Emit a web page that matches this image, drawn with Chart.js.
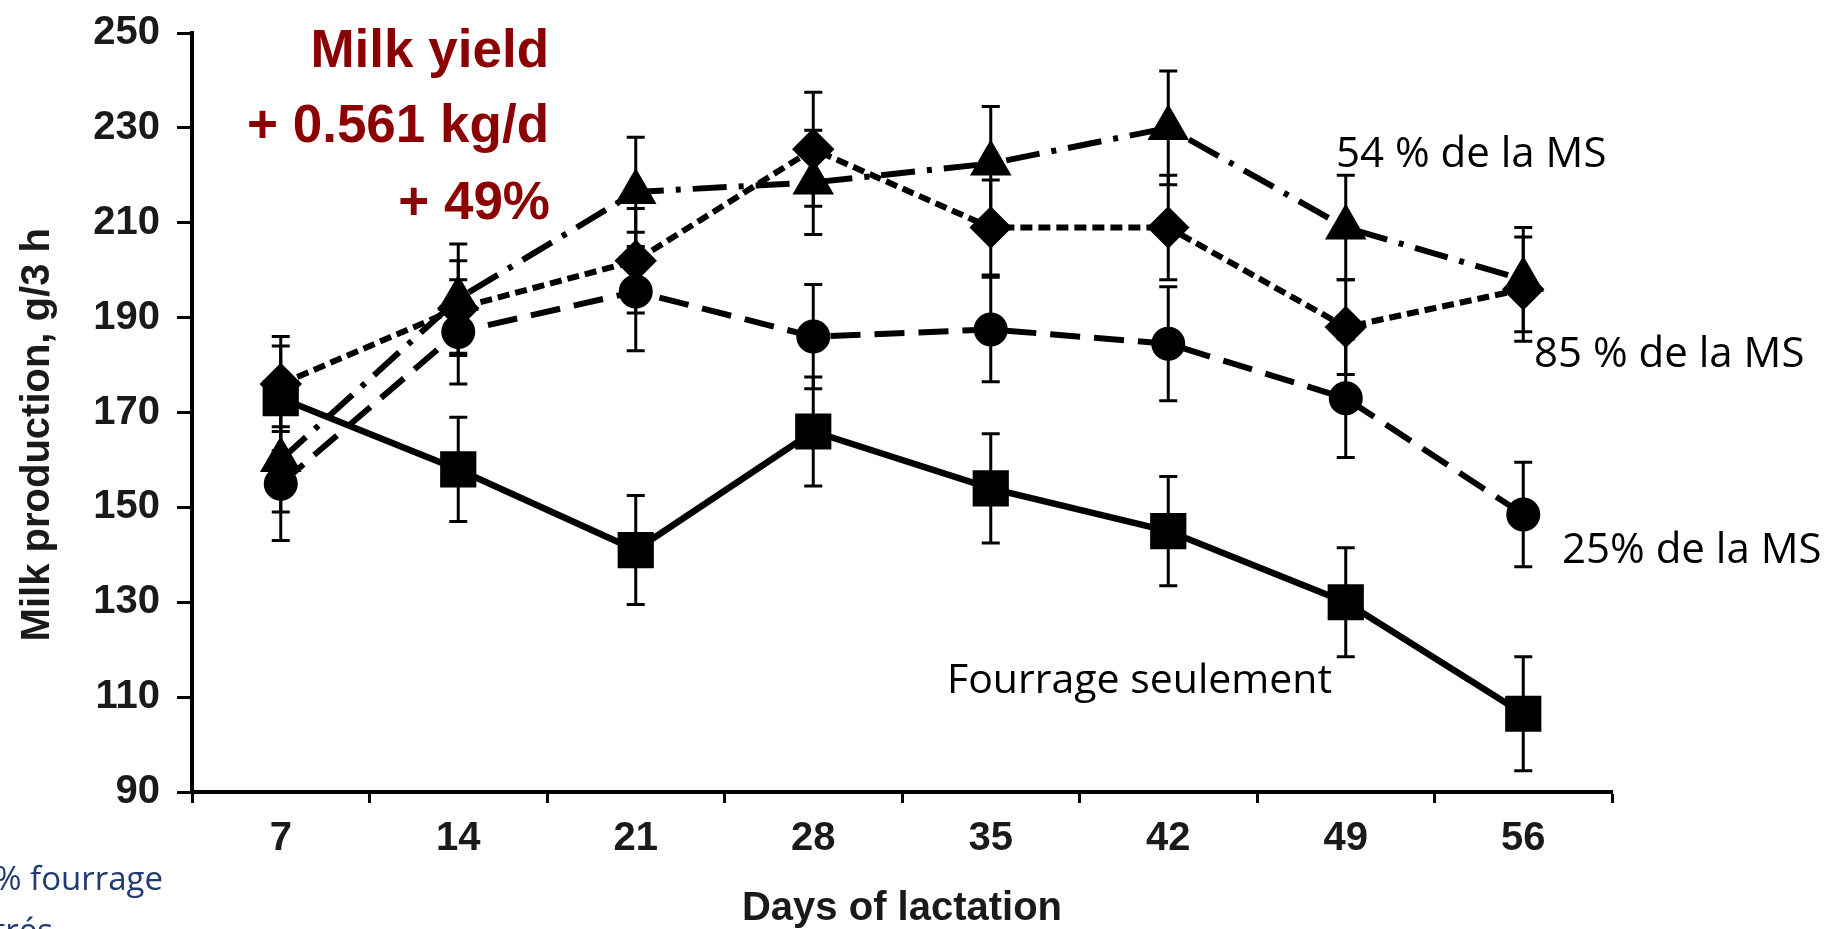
<!DOCTYPE html>
<html>
<head>
<meta charset="utf-8">
<title>Milk production</title>
<script src="https://cdn.jsdelivr.net/npm/chart.js@4.4.1/dist/chart.umd.min.js"></script>
<style>
  html, body { margin: 0; padding: 0; background: #fff; overflow: hidden; }
  canvas { display: block; }
</style>
</head>
<body>
<canvas id="milkChart" width="1828" height="929"></canvas>
<script>
// Days of lactation (categories)
const days = ["7", "14", "21", "28", "35", "42", "49", "56"];

// Milk production, g/3 h - means
const fourrage = [173, 158, 141, 166, 154, 145, 130, 106.5];
const ms25 = [155, 187, 195.5, 186, 187.5, 184.5, 173, 148.5];
const ms85 = [176, 192, 202, 225.5, 209, 209, 188, 196];
const ms54 = [160, 194, 216.5, 218.5, 222.5, 230, 209, 198];

// error bars (+/-)
const fourrageErr = [11, 11, 11.5, 11.5, 11.5, 11.5, 11.5, 12];
const ms25Err = [12, 11, 12.5, 11, 11, 12, 12.5, 11];
const ms85Err = [10, 10, 11, 12, 10, 11, 10, 11];
const ms54Err = [11, 11.5, 11.5, 11, 12, 12, 11, 11];

// y axis range
const yMin = 90;
const yMax = 250;
const yStep = 20;

const axisFont = "'Liberation Sans', Arial, sans-serif";
const noteFont = "'Open Sans', sans-serif";

// Error bars drawn from the y scale
const errorBars = {
  id: "errorBars",
  beforeDatasetsDraw(chart) {
    const ctx = chart.ctx;
    const yScale = chart.scales.y;
    chart.data.datasets.forEach((ds, i) => {
      const meta = chart.getDatasetMeta(i);
      ctx.save();
      ctx.strokeStyle = "#000";
      ctx.lineWidth = 3;
      meta.data.forEach((pt, j) => {
        const v = ds.data[j];
        const e = ds.errors[j];
        const top = yScale.getPixelForValue(v + e);
        const bot = yScale.getPixelForValue(v - e);
        ctx.beginPath();
        ctx.moveTo(pt.x, top);
        ctx.lineTo(pt.x, bot);
        ctx.moveTo(pt.x - 9, top);
        ctx.lineTo(pt.x + 9, top);
        ctx.moveTo(pt.x - 9, bot);
        ctx.lineTo(pt.x + 9, bot);
        ctx.stroke();
      });
      ctx.restore();
    });
  },
};

// Text notes on the slide
const notes = {
  id: "notes",
  afterDraw(chart) {
    const ctx = chart.ctx;
    ctx.save();
    ctx.textBaseline = "alphabetic";

    // red summary
    ctx.fillStyle = "#8b0000";
    ctx.font = "bold 53px " + axisFont;
    ctx.textAlign = "right";
    ctx.fillText("Milk yield", 549, 67);
    ctx.fillText("+ 0.561 kg/d", 549, 142);
    ctx.fillText("+ 49%", 550, 219);

    // series labels
    ctx.fillStyle = "#000";
    ctx.font = "42px " + noteFont;
    ctx.textAlign = "left";
    ctx.fillText("54 % de la MS", 1336, 167);
    ctx.fillText("85 % de la MS", 1534, 367);
    ctx.fillText("25% de la MS", 1562, 563);
    ctx.font = "41px " + noteFont;
    ctx.fillText("Fourrage seulement", 947, 693);

    // cut-off slide text, bottom left
    ctx.fillStyle = "#203a72";
    ctx.font = "33px " + noteFont;
    ctx.textAlign = "right";
    ctx.fillText("100% fourrage", 163, 890);
    ctx.fillText("concentrés", 53, 942);
    ctx.restore();
  },
};

const ctx = document.getElementById("milkChart").getContext("2d");

new Chart(ctx, {
  type: "line",
  data: {
    labels: days,
    datasets: [
      {
        label: "Fourrage seulement",
        data: fourrage,
        errors: fourrageErr,
        borderColor: "#000",
        backgroundColor: "#000",
        borderWidth: 6.5,
        pointStyle: "rect",
        pointRadius: 21,
      },
      {
        label: "25% de la MS",
        data: ms25,
        errors: ms25Err,
        borderColor: "#000",
        backgroundColor: "#000",
        borderWidth: 6,
        borderDash: [30, 14],
        pointStyle: "circle",
        pointRadius: 14,
      },
      {
        label: "85 % de la MS",
        data: ms85,
        errors: ms85Err,
        borderColor: "#000",
        backgroundColor: "#000",
        borderWidth: 6,
        borderDash: [12, 6],
        pointStyle: "rectRot",
        pointRadius: 17,
      },
      {
        label: "54 % de la MS",
        data: ms54,
        errors: ms54Err,
        borderColor: "#000",
        backgroundColor: "#000",
        borderWidth: 6,
        borderDash: [34, 12, 5, 12],
        pointStyle: "triangle",
        pointRadius: 18,
      },
    ],
  },
  options: {
    responsive: false,
    animation: false,
    clip: false,
    layout: {
      padding: { left: 0, top: 33, right: 216, bottom: 0 },
    },
    plugins: {
      legend: { display: false },
      tooltip: { enabled: false },
    },
    scales: {
      x: {
        type: "category",
        offset: true,
        grid: {
          offset: true,
          drawOnChartArea: false,
          drawTicks: true,
          tickLength: 11,
          tickColor: "#000",
          tickWidth: 3,
        },
        border: { display: true, color: "#000", width: 4 },
        ticks: {
          color: "#1a1a1a",
          padding: 12,
          font: { family: axisFont, size: 40, weight: "bold" },
        },
        title: {
          display: true,
          text: "Days of lactation",
          color: "#1a1a1a",
          padding: { top: 0, bottom: 0 },
          font: { family: axisFont, size: 40, weight: "bold", lineHeight: 1 },
        },
        afterFit(scale) {
          scale.height = 137;
          scale.paddingLeft = 0;
          scale.paddingRight = 0;
        },
      },
      y: {
        min: yMin,
        max: yMax,
        grid: {
          drawOnChartArea: false,
          drawTicks: true,
          tickLength: 15,
          tickColor: "#000",
          tickWidth: 3,
        },
        border: { display: true, color: "#000", width: 4 },
        ticks: {
          stepSize: yStep,
          color: "#1a1a1a",
          padding: 17,
          font: { family: axisFont, size: 40, weight: "bold" },
        },
        title: {
          display: true,
          // trailing spaces push the title a little below the axis centre, as in the original
          text: "Milk production, g/3 h    ",
          color: "#1a1a1a",
          padding: { top: 14, bottom: 0 },
          font: { family: axisFont, size: 40, weight: "bold" },
        },
        afterFit(scale) {
          scale.width = 192;
          scale.paddingTop = 0;
          scale.paddingBottom = 0;
        },
      },
    },
  },
  plugins: [errorBars, notes],
});
</script>
</body>
</html>
